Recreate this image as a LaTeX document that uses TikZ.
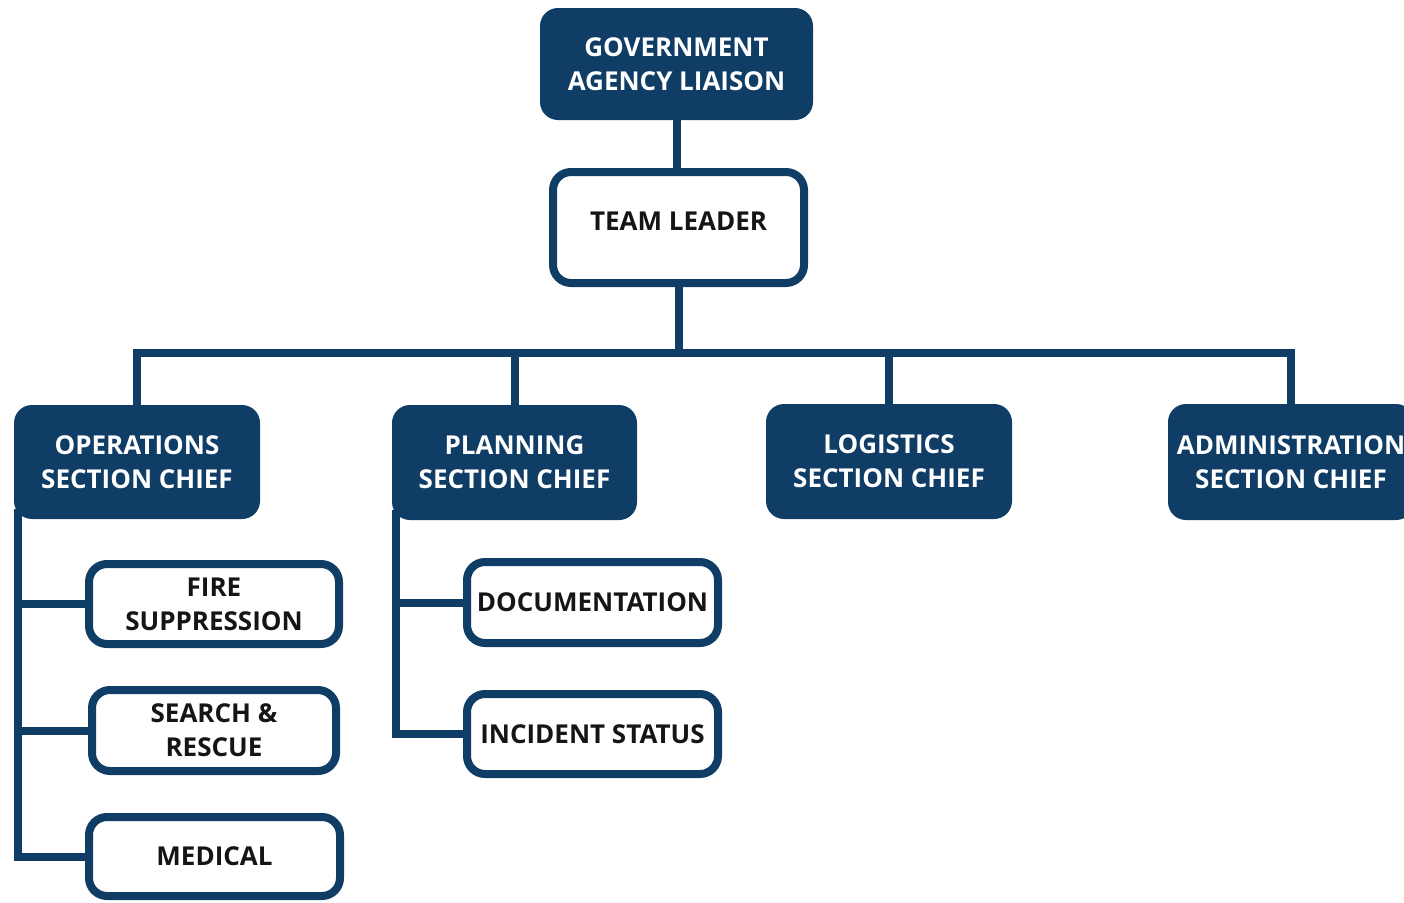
\documentclass[tikz,border=0pt]{standalone}
\usepackage{fontspec}
\setmainfont{Open Sans}
\definecolor{navy}{HTML}{0F3D66}
\definecolor{ink}{HTML}{151515}
\begin{document}
\begin{tikzpicture}[x=1pt,y=-1pt,
  txt/.style={font=\bfseries\fontsize{26}{34}\selectfont, align=center, inner sep=0pt},
  darkbox/.style={txt, fill=navy, text=white, rounded corners=18pt},
  lightbox/.style={txt, draw=navy, line width=8pt, fill=white, text=ink, rounded corners=18pt},
  conn/.style={draw=navy, line width=8pt, line join=miter}]
\useasboundingbox (0,0) rectangle (1404,902);
\clip (0,0) rectangle (1404,902);
\coordinate (bus) at (677,353);
\coordinate (opsx) at (18,519);
\coordinate (planx) at (396,520);
% nodes
\node[darkbox, minimum width=273pt, minimum height=112pt] (gov) at (676.5,64) {GOVERNMENT\\AGENCY LIAISON};
\node[lightbox, minimum width=251pt, minimum height=111pt, text depth=12pt] (tl) at (678.5,227.5) {TEAM LEADER};
\node[darkbox, minimum width=246pt, minimum height=114pt] (ops) at (137,462) {OPERATIONS\\SECTION CHIEF};
\node[darkbox, minimum width=245pt, minimum height=115pt] (plan) at (514.5,462.5) {PLANNING\\SECTION CHIEF};
\node[darkbox, minimum width=246pt, minimum height=115pt] (log) at (889,461.5) {LOGISTICS\\SECTION CHIEF};
\node[darkbox, minimum width=246pt, minimum height=116pt] (admin) at (1291,462) {ADMINISTRATION\\SECTION CHIEF};
\node[lightbox, minimum width=250pt, minimum height=80pt] (fire) at (214,604) {FIRE\\SUPPRESSION};
\node[lightbox, minimum width=244pt, minimum height=81pt] (sar) at (214,730.5) {SEARCH \&\\RESCUE};
\node[lightbox, minimum width=251pt, minimum height=79pt] (med) at (214.5,856.5) {MEDICAL};
\node[lightbox, minimum width=251pt, minimum height=81pt] (doc) at (592.5,602.5) {DOCUMENTATION};
\node[lightbox, minimum width=251pt, minimum height=80pt] (inc) at (592.5,734) {INCIDENT STATUS};
% connectors
\draw[conn] (gov.south) -- (gov.south |- tl.north);
\draw[conn] (tl.south) -- (tl.south |- bus);
\draw[conn] (ops.north) |- (bus) -| (admin.north);
\draw[conn] (plan.north) -- (plan.north |- bus);
\draw[conn] (log.north) -- (log.north |- bus);
\draw[conn] ([yshift=10pt]ops.south -| opsx) |- (med.west);
\draw[conn] (fire.west) -- (fire.west -| opsx);
\draw[conn] (sar.west) -- (sar.west -| opsx);
\draw[conn] ([yshift=10pt]plan.south -| planx) |- (inc.west);
\draw[conn] (doc.west) -- (doc.west -| planx);
\end{tikzpicture}
\end{document}
